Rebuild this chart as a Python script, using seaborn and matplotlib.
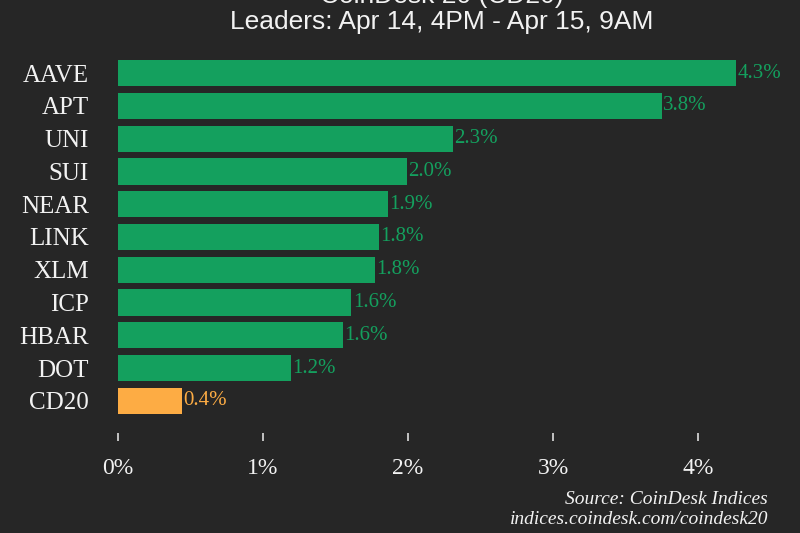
import pandas as pd
import numpy as np
import matplotlib
matplotlib.use("Agg")
import matplotlib.pyplot as plt
import seaborn as sns

################ DATA ################
coins = ['AAVE', 'APT', 'UNI', 'SUI', 'NEAR', 'LINK', 'XLM', 'ICP', 'HBAR', 'DOT', 'CD20']
changes = [4.26, 3.75, 2.31, 1.99, 1.86, 1.80, 1.77, 1.61, 1.55, 1.19, 0.44]
xticks = [0, 1, 2, 3, 4]

title_lines = ["CoinDesk 20 (CD20)", "Leaders: Apr 14, 4PM - Apr 15, 9AM"]
source_lines = ["Source: CoinDesk Indices", "indices.coindesk.com/coindesk20"]

################ STYLE ################
BG = '#262626'
GREEN = '#14a05e'
ORANGE = '#fdac44'
TEXT = '#f2f2f2'

sns.set_theme(style='dark')
plt.rcParams['font.family'] = ['Liberation Serif', 'DejaVu Serif']

df = pd.DataFrame({'coin': coins, 'change': changes})
df['group'] = np.where(df['coin'] == 'CD20', 'index', 'leader')
palette = {'leader': GREEN, 'index': ORANGE}

fig = plt.figure(figsize=(8, 5.33), dpi=100, facecolor=BG)
ax = fig.add_axes([118 / 800, 1 - 433 / 533, (785 - 118) / 800, (433 - 60) / 533])
ax.set_facecolor(BG)

sns.barplot(data=df, x='change', y='coin', hue='group', palette=palette,
            dodge=False, legend=False, width=0.8, saturation=1,
            linewidth=0, edgecolor='none', ax=ax)

ax.set_xlim(0, 4.6)
ax.set_ylim(10.98, -0.4)
ax.set_xticks(xticks)
ax.set_xticklabels([f"{t}%" for t in xticks], fontsize=17, color=TEXT)
ax.tick_params(axis='x', bottom=True, length=6, width=1.2, color='#dddddd',
               pad=12, direction='out')
ax.tick_params(axis='y', left=False, length=0, pad=21, labelsize=18, labelcolor=TEXT)
ax.set_xlabel('')
ax.set_ylabel('')
ax.grid(False)
for s in ax.spines.values():
    s.set_visible(False)

# value labels
for i, (c, v) in enumerate(zip(coins, changes)):
    col = ORANGE if c == 'CD20' else GREEN
    ax.text(v + 0.01, i, f"{v:.1f}%", va='center', ha='left', fontsize=15, color=col)

# title
fig.text(442 / 800, 1 - (-4) / 533, title_lines[0], ha='center', va='center',
         fontsize=19, color=TEXT, family=['Liberation Sans', 'DejaVu Sans'])
fig.text(442 / 800, 1 - 22 / 533, title_lines[1], ha='center', va='center',
         fontsize=19, color=TEXT, family=['Liberation Sans', 'DejaVu Sans'])

# source
fig.text(768 / 800, 1 - 499 / 533, source_lines[0], ha='right', va='center',
         fontsize=14, style='italic', color=TEXT)
fig.text(768 / 800, 1 - 520 / 533, source_lines[1], ha='right', va='center',
         fontsize=14, style='italic', color=TEXT)

fig.savefig('out.png', dpi=100, facecolor=BG)
